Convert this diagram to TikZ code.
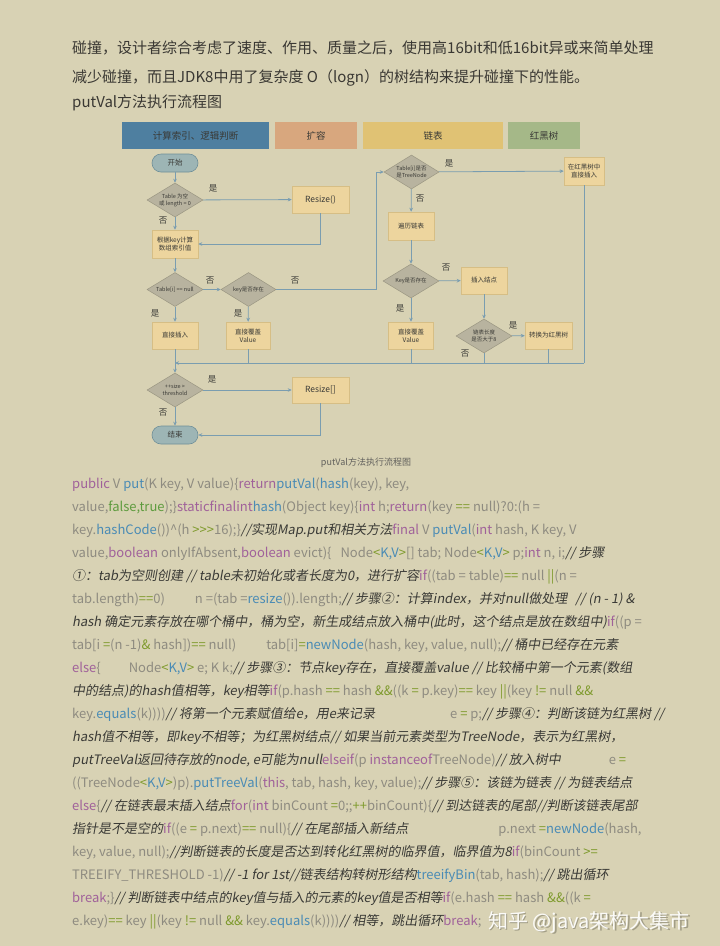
\documentclass[tikz,border=0pt]{standalone}
\usepackage{fontspec}
\setmainfont{Noto Sans CJK SC}
\newfontfamily\cmtfont[FakeSlant=0.18]{Noto Sans CJK SC}
\usetikzlibrary{arrows.meta,shapes.geometric,shadows}
\definecolor{pagebg}{HTML}{D8D2B4}
\definecolor{headtext}{HTML}{3A3833}
\definecolor{codegray}{HTML}{8E8B80}
\definecolor{kwc}{HTML}{A0619A}
\definecolor{fnc}{HTML}{4A8BB5}
\definecolor{opc}{HTML}{7E9A2C}
\definecolor{litc}{HTML}{5E9B3E}
\definecolor{cmc}{HTML}{3A3A36}
\definecolor{lineblue}{HTML}{7A9DB0}
\definecolor{procfill}{HTML}{EDD59E}
\definecolor{procborder}{HTML}{D6BE85}
\definecolor{decfill}{HTML}{B8B39F}
\definecolor{decborder}{HTML}{9A9682}
\definecolor{termfill}{HTML}{9DB5B5}
\definecolor{termborder}{HTML}{6F8F98}
\definecolor{barA}{HTML}{4E7FA0}
\definecolor{barB}{HTML}{D8A77E}
\definecolor{barC}{HTML}{E0C274}
\definecolor{barD}{HTML}{A5B888}
\definecolor{flowtext}{HTML}{3A3A36}
\newcommand\kw[1]{\textcolor{kwc}{#1}}
\newcommand\fn[1]{\textcolor{fnc}{#1}}
\newcommand\op[1]{\textcolor{opc}{#1}}
\newcommand\lit[1]{\textcolor{litc}{#1}}
\newcommand\cm[1]{{\cmtfont\color{cmc}#1}}
\tikzset{
  headline/.style={anchor=base west, inner sep=0, font=\fontsize{15}{18}\selectfont, text=headtext},
  codeline/.style={anchor=base west, inner sep=0, font=\fontsize{13}{15}\selectfont, text=codegray},
  arr/.style={draw=lineblue, line width=0.8pt, -{Stealth[length=4pt,width=3.6pt]}},
  ln/.style={draw=lineblue, line width=0.8pt},
  bar/.style={rectangle, minimum height=27pt, inner sep=0, font=\fontsize{9.5}{11}\selectfont, text=flowtext},
  proc/.style={rectangle, draw=procborder, fill=procfill, line width=0.5pt, inner sep=1pt, align=center,
    font=\fontsize{6.5}{8}\selectfont, text=flowtext, minimum height=27pt,
    drop shadow={shadow xshift=0.8pt, shadow yshift=-0.8pt, opacity=0.18}},
  dec/.style={diamond, aspect=1.7, draw=decborder, fill=decfill, line width=0.5pt, inner sep=0pt, align=center,
    font=\fontsize{5.5}{6.8}\selectfont, text=flowtext, minimum width=56pt, minimum height=34pt},
  term/.style={rectangle, rounded corners=9pt, draw=termborder, fill=termfill, line width=0.6pt,
    minimum width=46pt, minimum height=18pt, inner sep=0, font=\fontsize{7.5}{9}\selectfont, text=flowtext},
  yn/.style={inner sep=0, font=\fontsize{8.5}{10}\selectfont, text=flowtext},
}
\begin{document}
\begin{tikzpicture}[x=1pt,y=-1pt]
\fill[pagebg] (0,0) rectangle (720,946);
\useasboundingbox (0,0) rectangle (720,946);

% ---------- header text ----------
\node[headline] (h1) at (72,53.5) {碰撞，设计者综合考虑了速度、作用、质量之后，使用高16bit和低16bit异或来简单处理};
\node[headline] (h2) at (72,82) {减少碰撞，而且JDK8中用了复杂度 O（logn）的树结构来提升碰撞下的性能。};
\node[headline] (h3) at (72,107.5) {putVal方法执行流程图};

% ---------- swimlane bars ----------
\node[bar, fill=barA, minimum width=147pt] (bA) at (195.5,135.5) {计算索引、逻辑判断};
\node[bar, fill=barB, minimum width=82pt] (bB) at (316,135.5) {扩容};
\node[bar, fill=barC, minimum width=140pt] (bC) at (433,135.5) {链表};
\node[bar, fill=barD, minimum width=72pt] (bD) at (544,135.5) {红黑树};

% ---------- flow nodes ----------
\node[term] (start) at (175,163) {开始};
\node[dec] (d1) at (175,200) {Table 为空\\或 length = 0};
\node[proc, minimum width=57pt, font=\fontsize{8.5}{10}\selectfont] (rs1) at (320.5,199.5) {Resize()};
\node[proc, minimum width=46pt, minimum height=28pt] (calc) at (175,244) {根据key计算\\数组索引值};
\node[dec] (d2) at (175,289.5) {Table[i] == null};
\node[dec, minimum width=55pt] (d3) at (248.5,289.5) {key是否存在};
\node[proc, minimum width=46pt] (ins) at (175,335.5) {直接插入};
\node[proc, minimum width=44pt] (cov1) at (248,335.5) {直接覆盖\\Value};
\node[dec] (d4) at (175,390) {++size >\\threshold};
\node[proc, minimum width=57pt, minimum height=26pt, font=\fontsize{8.5}{10}\selectfont] (rs2) at (320.5,390) {Resize[]};
\node[term] (end) at (175,435) {结束};

\node[dec, minimum width=55pt] (dT) at (411.5,172) {Table[i]是否\\是TreeNode};
\node[proc, minimum width=40pt, minimum height=28pt] (rbins) at (584,171) {在红黑树中\\直接插入};
\node[proc, minimum width=46pt, minimum height=28pt] (trav) at (411,226) {遍历链表};
\node[dec] (dK) at (411,281) {Key是否存在};
\node[proc, minimum width=46pt] (insN) at (484,280.5) {插入结点};
\node[proc, minimum width=45pt] (cov2) at (411,335.5) {直接覆盖\\Value};
\node[dec] (d8) at (484,336) {链表长度\\是否大于8};
\node[proc, minimum width=47pt] (conv) at (548.5,335.5) {转换为红黑树};

\coordinate (m0) at (175,363);
\coordinate (mR) at (584,363);
\coordinate (lp) at (376,289.5);

% ---------- connectors ----------
\draw[arr] (start) -- (d1);
\draw[arr] (d1) -- (rs1);
\draw[arr] (d1) -- (calc);
\draw[arr] (rs1.south) |- (calc.east);
\draw[arr] (calc) -- (d2);
\draw[arr] (d2) -- (d3);
\draw[arr] (d2) -- (ins);
\draw[arr] (d3) -- (cov1);
\draw[ln] (d3.east) -- (lp);
\draw[arr] (lp) |- (dT.west);
\draw[arr] (ins) -- (d4);
\draw[ln] (cov1.south) -- (cov1.south |- m0);
\draw[ln] (rbins.south) -- (mR);
\draw[arr] (mR) -- (m0);
\draw[ln] (cov2.south) -- (cov2.south |- m0);
\draw[ln] (d8.south) -- (d8.south |- m0);
\draw[ln] (conv.south) -- (conv.south |- m0);
\draw[arr] (d4) -- (rs2);
\draw[arr] (d4) -- (end);
\draw[arr] (rs2.south) |- (end.east);
\draw[arr] (dT) -- (rbins);
\draw[arr] (dT) -- (trav);
\draw[arr] (trav) -- (dK);
\draw[arr] (dK) -- (insN);
\draw[arr] (dK) -- (cov2);
\draw[arr] (insN) -- (d8);
\draw[arr] (d8) -- (conv);

% ---------- yes / no labels ----------
\node[yn] (y1) at (213,188) {是};
\node[yn] (n1) at (163,221) {否};
\node[yn] (n2) at (210,281) {否};
\node[yn] (n3) at (295,281) {否};
\node[yn] (y2) at (155,313) {是};
\node[yn] (y3) at (238,313) {是};
\node[yn] (y4) at (212,379) {是};
\node[yn] (n4) at (163,413) {否};
\node[yn] (y5) at (449,163) {是};
\node[yn] (n5) at (420,199) {否};
\node[yn] (n6) at (446,268) {否};
\node[yn] (y6) at (400,308) {是};
\node[yn] (y7) at (513,325) {是};
\node[yn] (n7) at (465,354) {否};

\node[inner sep=0, font=\fontsize{9}{11}\selectfont, text=headtext!80] (cap) at (366,463) {putVal方法执行流程图};

% ---------- code text ----------
\node[codeline] (c1) at (72,488) {\kw{public} V \fn{put}(K key, V value)\{\kw{return}\fn{putVal}(\fn{hash}(key), key,};
\node[codeline] (c2) at (72,511.05) {value,\lit{false,true});\}\kw{staticfinalint}\fn{hash}(Object key)\{\kw{int} h;\kw{return}(key \op{==} null)?0:(h =};
\node[codeline] (c3) at (72,534.1) {key.\fn{hashCode}())\textasciicircum(h \op{>\kern0pt>\kern0pt>}16);\}\cm{//实现Map.put和相关方法}\kw{final} V \fn{putVal}(\kw{int} hash, K key, V};
\node[codeline] (c4) at (72,557.15) {value,\kw{boolean} onlyIfAbsent,\kw{boolean} evict)\{\hspace{9pt}Node\op{<}\fn{K,V}\op{>}[] tab; Node\op{<}\fn{K,V}\op{>} p;\kw{int} n, i;\cm{// 步骤}};
\node[codeline] (c5) at (72,580.2) {\cm{①：tab为空则创建 // table未初始化或者长度为0，进行扩容}\kw{if}((tab = table)\op{==} null \op{||}(n =};
\node[codeline] (c6) at (72,603.25) {tab.length)\op{==}0)\hspace{30pt}n =(tab =\fn{resize}()).length;\cm{// 步骤②：计算index，并对null做处理\hspace{8pt}// (n - 1) \&}};
\node[codeline] (c7) at (72,626.3) {\cm{hash 确定元素存放在哪个桶中，桶为空，新生成结点放入桶中(此时，这个结点是放在数组中)}\kw{if}((p =};
\node[codeline] (c8) at (72,649.35) {tab[i \op{=}(n -1)\op{\&} hash])\op{==} null)\hspace{30pt}tab[i]\op{=}\fn{newNode}(hash, key, value, null);\cm{// 桶中已经存在元素}};
\node[codeline] (c9) at (72,672.4) {\kw{else}\{\hspace{28pt}Node\op{<}\fn{K,V}\op{>} e; K k;\cm{// 步骤③：节点key存在，直接覆盖value // 比较桶中第一个元素(数组}};
\node[codeline] (c10) at (72,695.45) {\cm{中的结点)的hash值相等，key相等}\kw{if}(p.hash \op{==} hash \op{\&\&}((k \op{=} p.key)\op{==} key \op{||}(key \op{!=} null \op{\&\&}};
\node[codeline] (c11) at (72,718.5) {key.\fn{equals}(k))))\cm{// 将第一个元素赋值给e，用e来记录}\hspace{75pt}e \op{=} p;\cm{// 步骤④：判断该链为红黑树 //}};
\node[codeline] (c12) at (72,741.55) {\cm{hash值不相等，即key不相等；为红黑树结点// 如果当前元素类型为TreeNode，表示为红黑树，}};
\node[codeline] (c13) at (72,764.6) {\cm{putTreeVal返回待存放的node, e可能为null}\kw{elseif}(p \kw{instanceof}TreeNode)\cm{// 放入树中}\hspace{48pt}e \op{=}};
\node[codeline] (c14) at (72,787.65) {((TreeNode\op{<}\fn{K,V}\op{>})p).\fn{putTreeVal}(\kw{this}, tab, hash, key, value);\cm{// 步骤⑤：该链为链表 // 为链表结点}};
\node[codeline] (c15) at (72,810.7) {\kw{else}\{\cm{// 在链表最末插入结点}\kw{for}(\kw{int} binCount \op{=}0;;\op{++}binCount)\{\cm{// 到达链表的尾部//判断该链表尾部}};
\node[codeline] (c16) at (72,833.75) {\cm{指针是不是空的}\kw{if}((e \op{=} p.next)\op{==} null)\{\cm{// 在尾部插入新结点}\hspace{90pt}p.next \op{=}\fn{newNode}(hash,};
\node[codeline] (c17) at (72,856.8) {key, value, null);\cm{//判断链表的长度是否达到转化红黑树的临界值，临界值为8}\kw{if}(binCount \op{>=}};
\node[codeline] (c18) at (72,879.85) {TREEIFY\_THRESHOLD -1)\cm{// -1 for 1st//链表结构转树形结构}\fn{treeifyBin}(tab, hash);\cm{// 跳出循环}};
\node[codeline] (c19) at (72,902.9) {\kw{break};\}\cm{// 判断链表中结点的key值与插入的元素的key值是否相等}\kw{if}(e.hash \op{==} hash \op{\&\&}((k \op{=}};
\node[codeline] (c20) at (72,925.95) {e.key)\op{==} key \op{||}(key \op{!=} null \op{\&\&} key.\fn{equals}(k))))\cm{// 相等，跳出循环}\kw{break};};

% ---------- watermark ----------
\node[anchor=base west, inner sep=0, font=\fontsize{20}{22}\selectfont, text=black, opacity=0.25] (wms) at (489.5,929.5) {知乎 @java架构大集市};
\node[anchor=base west, inner sep=0, font=\fontsize{20}{22}\selectfont, text=white, opacity=0.92] (wm) at (488,928) {知乎 @java架构大集市};
\end{tikzpicture}
\end{document}
